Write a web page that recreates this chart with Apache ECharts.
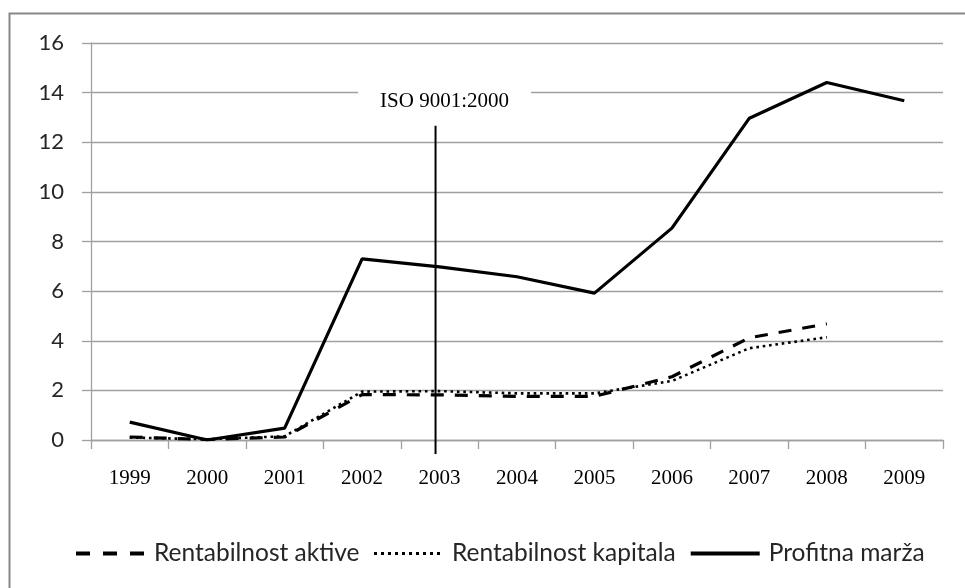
<!DOCTYPE html>
<html>
<head>
<meta charset="utf-8">
<script src="https://cdn.jsdelivr.net/npm/echarts@6/dist/echarts.min.js"></script>
<style>
  html, body { margin: 0; padding: 0; background: #fff; }
  #chart { width: 965px; height: 588px; }
</style>
</head>
<body>
<div id="chart"></div>
<script>
// Years on the category axis
const years = ['1999', '2000', '2001', '2002', '2003', '2004', '2005', '2006', '2007', '2008', '2009'];

// Indicator series (values in %)
const rentabilnostAktive = [0.12, 0.02, 0.12, 1.83, 1.82, 1.76, 1.76, 2.55, 4.12, 4.68, null];
const rentabilnostKapitala = [0.10, 0.03, 0.15, 1.95, 1.97, 1.88, 1.88, 2.38, 3.70, 4.14, null];
const profitnaMarza = [0.72, 0.0, 0.48, 7.30, 6.98, 6.58, 5.92, 8.54, 12.97, 14.41, 13.67];

// Y axis ticks
const yTicks = { min: 0, max: 16, step: 2 };

// Certification marker
const isoYear = '2003';
const isoText = 'ISO 9001:2000';

const sans = 'Lato, "Open Sans", sans-serif';
const serif = '"Liberation Serif", "DejaVu Serif", serif';
const gridColor = '#a0a0a0';

const dashStyle = { color: '#000', width: 3.2, type: [13, 11], cap: 'butt' };
const dotStyle = { color: '#000', width: 2.6, type: [2.6, 3.8], cap: 'butt' };
const solidStyle = { color: '#000', width: 3.2, type: 'solid' };

const chart = echarts.init(document.getElementById('chart'), null, { renderer: 'canvas' });

chart.setOption({
  animation: false,
  backgroundColor: '#fff',
  grid: { left: 91, right: 22, top: 43, bottom: 148, containLabel: false },
  legend: {
    left: 69,
    top: 536,
    itemGap: 13,
    itemWidth: 69,
    itemHeight: 14,
    itemStyle: { opacity: 0, borderWidth: 0 },
    textStyle: { fontFamily: sans, fontSize: 24.5, color: '#262626', padding: [0, 0, 0, 4] },
    data: [
      { name: 'Rentabilnost aktive', lineStyle: { width: 4, type: [14, 13], cap: 'butt' } },
      { name: 'Rentabilnost kapitala', lineStyle: { width: 3, type: [3, 4], cap: 'butt' } },
      { name: 'Profitna marža', lineStyle: { width: 4, type: 'solid' } }
    ]
  },
  xAxis: {
    type: 'category',
    data: years,
    boundaryGap: true,
    axisLine: { lineStyle: { color: gridColor, width: 1.3 } },
    axisTick: { show: true, length: 9, lineStyle: { color: gridColor, width: 1.3 } },
    axisLabel: { fontFamily: serif, fontSize: 21, color: '#000', margin: 28 },
    splitLine: { show: false }
  },
  yAxis: {
    type: 'value',
    min: yTicks.min,
    max: yTicks.max,
    interval: yTicks.step,
    axisLine: { show: true, lineStyle: { color: gridColor, width: 1.3 } },
    axisTick: { show: true, length: 9, lineStyle: { color: gridColor, width: 1.3 } },
    axisLabel: { fontFamily: sans, fontSize: 22, color: '#262626', margin: 27 },
    splitLine: { show: true, lineStyle: { color: gridColor, width: 1.3 } }
  },
  series: [
    {
      name: 'Rentabilnost aktive',
      type: 'line',
      data: rentabilnostAktive,
      symbol: 'none',
      z: 3,
      lineStyle: dashStyle,
      itemStyle: { color: '#000' }
    },
    {
      name: 'Rentabilnost kapitala',
      type: 'line',
      data: rentabilnostKapitala,
      symbol: 'none',
      z: 3,
      lineStyle: dotStyle,
      itemStyle: { color: '#000' }
    },
    {
      name: 'Profitna marža',
      type: 'line',
      data: profitnaMarza,
      symbol: 'none',
      z: 4,
      lineStyle: solidStyle,
      itemStyle: { color: '#000' }
    }
  ]
});

// Vertical marker for the certification year, with its caption above
const xIso = chart.convertToPixel({ xAxisIndex: 0 }, isoYear) - 4;
const yLineTop = chart.convertToPixel({ yAxisIndex: 0 }, 12.66);
const yAxisZero = chart.convertToPixel({ yAxisIndex: 0 }, 0);
const yCaption = chart.convertToPixel({ yAxisIndex: 0 }, 13.63);

chart.setOption({
  graphic: [
    {
      type: 'rect',
      silent: true,
      shape: { x: 9.5, y: 13.5, width: 1000, height: 700 },
      style: { fill: 'none', stroke: '#878787', lineWidth: 2 },
      z: 0
    },
    {
      type: 'line',
      silent: true,
      shape: { x1: xIso, y1: yLineTop, x2: xIso, y2: yAxisZero + 14 },
      style: { stroke: '#000', lineWidth: 2 },
      z: 10
    },
    {
      type: 'text',
      silent: true,
      x: xIso + 9,
      y: yCaption,
      style: {
        text: isoText,
        font: '21px ' + serif,
        fill: '#000',
        align: 'center',
        verticalAlign: 'middle',
        backgroundColor: '#fff',
        padding: [6, 22, 6, 22]
      },
      z: 10
    }
  ]
});
</script>
</body>
</html>
